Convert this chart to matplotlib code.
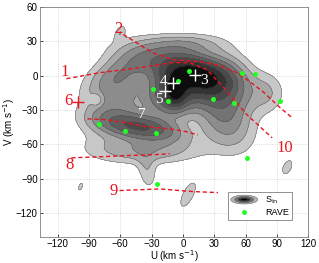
import numpy as np
import matplotlib
matplotlib.use('Agg')
import matplotlib.pyplot as plt
from matplotlib.patches import Ellipse
from matplotlib.legend_handler import HandlerBase

plt.rcParams['font.family'] = ['Liberation Sans', 'DejaVu Sans']

## density blobs of the S_in map: U, V, sigma_U, sigma_V, angle (deg), weight
blob_u = [-7, -5, 15, -15, 40, -40, -65, -60, -35, 40, 80, 0, -60, -34, 5, 100, -98, -82, 25]
blob_v = [-13, -10, 0, 12, -8, -45, -25, 2, -65, -40, -15, 28, 38, -84, -104, -80, -97, -21, -10]
blob_su = [6, 18, 18, 30, 18, 25, 22, 20, 35, 20, 12, 25, 3, 6, 4.5, 3.5, 1.5, 4, 12]
blob_sv = [8, 14, 8, 10, 16, 7, 18, 10, 8, 15, 12, 6, 5, 11, 11, 6, 3, 4, 10]
blob_ang = [0, 30, -10, -10, -40, -8, 30, 20, 0, -40, 0, 0, -30, 10, -30, -30, -20, 0, -30]
blob_w = [0.5, 0.6, 0.5, 0.25, 0.3, 0.4, 0.18, 0.15, 0.15, 0.18, 0.1, 0.12, 0.085, 0.085, 0.085, 0.085, 0.085, -0.09, 0.2]
levels = [0.05, 0.1, 0.16, 0.23, 0.32, 0.43, 0.58, 0.8, 5.0]
grays = ['0.78', '0.66', '0.55', '0.45', '0.37', '0.29', '0.2', '0.05']

## RAVE groups
rave_u = [-80, -55, -26, -14, 6, -5, -29, 29, 49, 57, 69, 93, 61, -25]
rave_v = [-42, -48, -50, -22, 4, -5, -12, -20.5, -24, 2, 1.5, -22.5, -72, -95]

## dashed lines
line1_u = [-111.6, -79.9, -41.4, -9.7, 6.6, 23, 38.4, 61.4, 85.5]
line1_v = [-2.6, 2.6, 7.0, 11.4, 11.4, 5.3, -9.6, -34.2, -54.3]
line2_u = [-57, -41.4, -28.9, -9.7, 16.3, 35.5, 51.8, 64.3, 76.8, 93.2, 104.7]
line2_v = [36, 27.1, 20.1, 14.0, 12.3, 8.8, 2.6, -5.3, -14.0, -28.0, -36.8]
line6_u = [-91.4, -73.2, -53.9, -34.7, -12.6, 3.7, 14.3]
line6_v = [-37.7, -38.5, -41.2, -44.7, -46.4, -49.0, -51.7]
line8_u = [-106.8, -79.9, -53.9, -31.8, -12.6]
line8_v = [-71.8, -70.9, -69.8, -69.2, -68.3]
line9_u = [-60.7, -22.2, 9.5, 33.6]
line9_v = [-100.4, -99.0, -101.3, -102.2]

red_lbl = ['1', '2', '6', '8', '9', '10']
red_u = [-113, -61.6, -110, -109, -66, 98]
red_v = [2.9, 41, -22, -78, -101, -63.4]
white_lbl = ['4', '3', '5', '7']
white_u = [-18.4, 20, -23, -39]
white_v = [-5, -4.4, -21, -34]
cross_u = [-9.5, 11.4, -17.4]
cross_v = [-6, 1, -13.8]


class HandlerRings(HandlerBase):
    def create_artists(self, legend, orig, xd, yd, width, height, fontsize, trans):
        cx = -xd + width / 2
        cy = -yd + height / 2
        arts = []
        for f, g in zip([1.0, 0.7, 0.45, 0.25], ['0.7', '0.45', '0.2', '0.0']):
            e = Ellipse((cx, cy), width * f, height * 1.1 * f, facecolor=g,
                        edgecolor='0.3', lw=0.3, transform=trans)
            arts.append(e)
        return arts


U, V = np.meshgrid(np.arange(-145, 125, 0.5), np.arange(-150, 66, 0.5))
Z = np.zeros_like(U)
for u0, v0, su, sv, a, w in zip(blob_u, blob_v, blob_su, blob_sv, blob_ang, blob_w):
    t = np.deg2rad(a)
    du, dv = U - u0, V - v0
    x = du * np.cos(t) + dv * np.sin(t)
    y = -du * np.sin(t) + dv * np.cos(t)
    Z += w * np.exp(-0.5 * ((x / su) ** 2 + (y / sv) ** 2))

fig = plt.figure(figsize=(3.19, 2.63), dpi=100)
ax = fig.add_axes([0.125, 0.099, 0.841, 0.874])

ax.contourf(U, V, Z, levels=levels, colors=grays, zorder=1)
ax.contour(U, V, Z, levels=levels[:-1], colors='0.3', linewidths=0.3, zorder=2)

for lu, lv in [(line1_u, line1_v), (line2_u, line2_v), (line6_u, line6_v),
               (line8_u, line8_v), (line9_u, line9_v)]:
    ax.plot(lu, lv, color='#e8141e', ls=(0, (3, 2)), lw=1.0, zorder=3)

ax.plot(rave_u, rave_v, 'o', color='#22ff22', ms=3.6, mec='none', zorder=4)
ax.plot(cross_u, cross_v, '+', color='white', ms=8, mew=1.0, zorder=4)
ax.plot([-100], [-23.4], '+', color='#e8141e', ms=8, mew=1.0, zorder=4)

for s, u, v in zip(red_lbl, red_u, red_v):
    ax.text(u, v, s, color='#e8141e', fontsize=12, family='Liberation Serif',
            ha='center', va='center', zorder=5)
for s, u, v in zip(white_lbl, white_u, white_v):
    ax.text(u, v, s, color='white', fontsize=11, family='Liberation Serif',
            ha='center', va='center', zorder=5)

ax.set_xlim(-137, 120)
ax.set_ylim(-141, 60)
ax.set_xticks(np.arange(-120, 121, 30))
ax.set_yticks(np.arange(-120, 61, 30))
ax.tick_params(labelsize=7, direction='in', length=2, width=0.5, pad=1.5)
ax.grid(True, ls=':', color='0.8', lw=0.6, zorder=0)
ax.set_axisbelow(True)
for sp in ax.spines.values():
    sp.set_color('0.5')
    sp.set_linewidth(0.6)
ax.set_xlabel(r'U (km s$^{-1}$)', fontsize=7)
ax.set_ylabel(r'V (km s$^{-1}$)', fontsize=7)
ax.xaxis.set_label_coords(0.5, -0.05)
ax.yaxis.set_label_coords(-0.085, 0.5)

proxy = Ellipse((0, 0), 1, 1)
rave_h, = ax.plot([], [], 'o', color='#22ff22', ms=3.6, mec='none')
leg = ax.legend([proxy, rave_h], [r'S$_{\rm in}$', 'RAVE'],
                handler_map={proxy: HandlerRings()}, loc='lower right',
                bbox_to_anchor=(0.955, 0.055), fontsize=6.5, handlelength=3.0,
                handleheight=1.0, labelspacing=0.2, borderpad=0.3,
                handletextpad=0.8, fancybox=False, framealpha=1)
leg.get_frame().set_edgecolor('0.5')
leg.get_frame().set_linewidth(0.6)
leg.set_zorder(6)

fig.savefig('out.png', dpi=100)
